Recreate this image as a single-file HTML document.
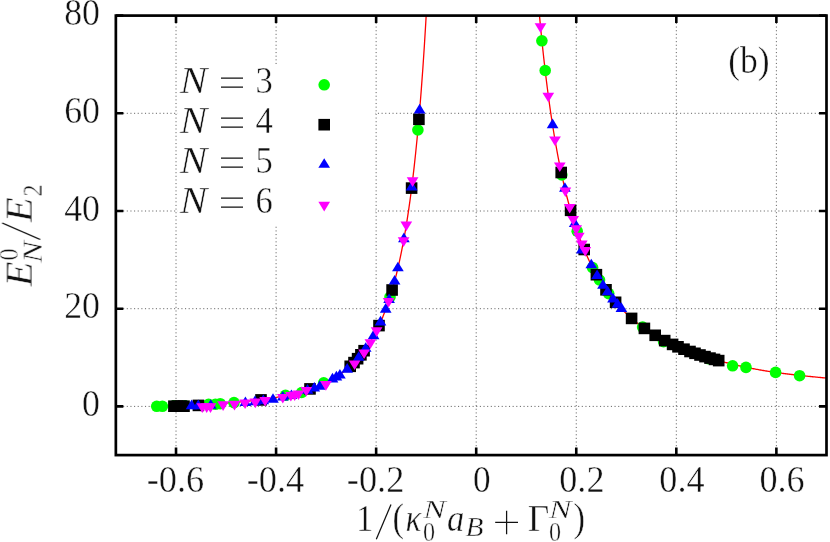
<!DOCTYPE html><html><head><meta charset="utf-8"><style>html,body{margin:0;padding:0;background:#fff}body{width:830px;height:542px;overflow:hidden;font-family:"Liberation Serif",serif}</style></head><body><svg width="830" height="542" viewBox="0 0 830 542" style="display:block">
<rect width="830" height="542" fill="#fff"/>
<defs><filter id="gs" x="0" y="0" width="830" height="542" filterUnits="userSpaceOnUse" color-interpolation-filters="sRGB"><feColorMatrix type="saturate" values="0"/></filter></defs>
<g stroke="#000" stroke-opacity="0.68" stroke-width="0.9" stroke-dasharray="1.1 2.54" fill="none">
<path d="M176.02,15.6V455.1"/>
<path d="M276.08,15.6V455.1"/>
<path d="M376.14,15.6V455.1"/>
<path d="M476.20,15.6V455.1"/>
<path d="M576.26,15.6V455.1"/>
<path d="M676.32,15.6V455.1"/>
<path d="M776.38,15.6V455.1"/>
<path d="M115.85,406.40H826.5"/>
<path d="M115.85,308.70H826.5"/>
<path d="M115.85,211.00H826.5"/>
<path d="M115.85,113.30H826.5"/>
</g>
<rect x="177.5" y="65" width="197.5" height="160" fill="#fff"/>
<g stroke="#000" stroke-width="2.6" fill="none">
<path d="M176.02,455.1v-7.5M176.02,15.6v7.5"/>
<path d="M276.08,455.1v-7.5M276.08,15.6v7.5"/>
<path d="M376.14,455.1v-7.5M376.14,15.6v7.5"/>
<path d="M476.20,455.1v-7.5M476.20,15.6v7.5"/>
<path d="M576.26,455.1v-7.5M576.26,15.6v7.5"/>
<path d="M676.32,455.1v-7.5M676.32,15.6v7.5"/>
<path d="M776.38,455.1v-7.5M776.38,15.6v7.5"/>
<path d="M115.85,406.40h7.5M826.5,406.40h-7.5"/>
<path d="M115.85,308.70h7.5M826.5,308.70h-7.5"/>
<path d="M115.85,211.00h7.5M826.5,211.00h-7.5"/>
<path d="M115.85,113.30h7.5M826.5,113.30h-7.5"/>
<path d="M115.85,15.60h7.5M826.5,15.60h-7.5"/>
</g>
<clipPath id="c"><rect x="115.85" y="15.6" width="710.65" height="439.5"/></clipPath>
<g clip-path="url(#c)" stroke="#f00" stroke-width="1.3" fill="none"><path d="M154.71,406.40 L154.71,406.40 L154.72,406.40 L154.73,406.40 L154.75,406.40 L154.76,406.40 L154.79,406.40 L154.82,406.40 L154.85,406.40 L154.89,406.39 L154.93,406.39 L154.97,406.39 L155.03,406.39 L155.08,406.39 L155.14,406.39 L155.20,406.39 L155.27,406.38 L155.34,406.38 L155.42,406.38 L155.50,406.38 L155.58,406.37 L155.67,406.37 L155.77,406.37 L155.87,406.36 L155.97,406.36 L156.07,406.36 L156.19,406.35 L156.30,406.35 L156.42,406.35 L156.55,406.34 L156.67,406.34 L156.81,406.34 L156.94,406.33 L157.09,406.33 L157.23,406.32 L157.38,406.32 L157.54,406.31 L157.69,406.31 L157.86,406.30 L158.02,406.30 L158.20,406.29 L158.37,406.29 L158.55,406.28 L158.74,406.28 L158.93,406.27 L159.12,406.26 L159.32,406.26 L159.52,406.25 L159.73,406.24 L159.94,406.24 L160.15,406.23 L160.37,406.22 L160.59,406.22 L160.82,406.21 L161.05,406.20 L161.29,406.19 L161.53,406.19 L161.77,406.18 L162.02,406.17 L162.28,406.16 L162.53,406.15 L162.80,406.14 L163.06,406.14 L163.33,406.13 L163.61,406.12 L163.89,406.11 L164.17,406.10 L164.46,406.09 L164.75,406.08 L165.04,406.07 L165.34,406.06 L165.65,406.05 L165.95,406.04 L166.27,406.03 L166.58,406.02 L166.91,406.01 L167.23,406.00 L167.56,405.98 L167.89,405.97 L168.23,405.96 L168.57,405.95 L168.92,405.94 L169.27,405.93 L169.62,405.91 L169.98,405.90 L170.34,405.89 L170.71,405.87 L171.08,405.86 L171.46,405.85 L171.84,405.83 L172.22,405.82 L172.61,405.81 L173.00,405.79 L173.39,405.78 L173.79,405.76 L174.20,405.75 L174.60,405.73 L175.02,405.72 L175.43,405.70 L175.85,405.69 L176.28,405.67 L176.70,405.66 L177.14,405.64 L177.57,405.62 L178.01,405.61 L178.45,405.59 L178.90,405.57 L179.35,405.55 L179.81,405.54 L180.27,405.52 L180.73,405.50 L181.20,405.48 L181.67,405.46 L182.14,405.45 L182.62,405.43 L183.10,405.41 L183.59,405.39 L184.08,405.37 L184.57,405.35 L185.07,405.33 L185.57,405.31 L186.07,405.28 L186.58,405.26 L187.09,405.24 L187.60,405.22 L188.12,405.20 L188.64,405.18 L189.16,405.15 L189.69,405.13 L190.22,405.11 L190.76,405.08 L191.30,405.06 L191.84,405.04 L192.38,405.01 L192.93,404.99 L193.48,404.96 L194.03,404.94 L194.59,404.91 L195.15,404.88 L195.71,404.86 L196.28,404.83 L196.85,404.80 L197.42,404.78 L198.00,404.75 L198.57,404.72 L199.16,404.69 L199.74,404.66 L200.33,404.63 L200.92,404.60 L201.51,404.57 L202.11,404.54 L202.70,404.51 L203.30,404.48 L203.91,404.45 L204.51,404.42 L205.12,404.38 L205.74,404.35 L206.35,404.32 L206.97,404.28 L207.59,404.25 L208.21,404.22 L208.83,404.18 L209.46,404.15 L210.09,404.11 L210.72,404.07 L211.36,404.04 L211.99,404.00 L212.63,403.96 L213.28,403.92 L213.92,403.88 L214.57,403.84 L215.22,403.80 L215.87,403.76 L216.52,403.72 L217.18,403.68 L217.84,403.64 L218.50,403.60 L219.16,403.55 L219.82,403.51 L220.49,403.47 L221.16,403.42 L221.83,403.38 L222.51,403.33 L223.18,403.28 L223.86,403.23 L224.54,403.19 L225.22,403.14 L225.91,403.09 L226.59,403.04 L227.28,402.99 L227.97,402.94 L228.66,402.88 L229.36,402.83 L230.06,402.78 L230.75,402.72 L231.45,402.67 L232.16,402.61 L232.86,402.56 L233.57,402.50 L234.28,402.44 L234.99,402.38 L235.70,402.32 L236.41,402.26 L237.13,402.20 L237.85,402.14 L238.57,402.07 L239.29,402.01 L240.01,401.94 L240.74,401.88 L241.46,401.81 L242.19,401.74 L242.92,401.67 L243.65,401.60 L244.39,401.53 L245.12,401.46 L245.86,401.39 L246.60,401.31 L247.34,401.24 L248.09,401.16 L248.83,401.08 L249.58,401.00 L250.33,400.92 L251.08,400.84 L251.83,400.76 L252.58,400.67 L253.34,400.59 L254.09,400.50 L254.85,400.41 L255.61,400.32 L256.37,400.23 L257.14,400.14 L257.90,400.05 L258.67,399.95 L259.44,399.86 L260.21,399.76 L260.98,399.66 L261.75,399.56 L262.53,399.45 L263.30,399.35 L264.08,399.24 L264.86,399.13 L265.64,399.02 L266.43,398.91 L267.21,398.80 L268.00,398.68 L268.79,398.57 L269.57,398.45 L270.37,398.32 L271.16,398.20 L271.95,398.07 L272.75,397.95 L273.55,397.82 L274.35,397.68 L275.15,397.55 L275.95,397.41 L276.76,397.27 L277.56,397.13 L278.37,396.98 L279.18,396.84 L279.99,396.69 L280.81,396.53 L281.62,396.38 L282.44,396.22 L283.25,396.06 L284.07,395.89 L284.90,395.72 L285.72,395.55 L286.54,395.38 L287.37,395.20 L288.20,395.02 L289.03,394.83 L289.86,394.65 L290.70,394.45 L291.53,394.26 L292.37,394.06 L293.21,393.85 L294.05,393.65 L294.90,393.43 L295.74,393.22 L296.59,393.00 L297.44,392.77 L298.29,392.54 L299.14,392.31 L300.00,392.07 L300.86,391.82 L301.71,391.57 L302.58,391.32 L303.44,391.05 L304.31,390.79 L305.17,390.51 L306.04,390.24 L306.92,389.95 L307.79,389.66 L308.67,389.36 L309.55,389.06 L310.43,388.74 L311.31,388.42 L312.20,388.10 L313.08,387.76 L313.98,387.42 L314.87,387.07 L315.76,386.71 L316.66,386.34 L317.56,385.97 L318.47,385.58 L319.37,385.18 L320.28,384.78 L321.19,384.36 L322.11,383.94 L323.03,383.50 L323.95,383.05 L324.87,382.59 L325.80,382.12 L326.73,381.63 L327.66,381.13 L328.59,380.62 L329.53,380.09 L330.47,379.55 L331.42,379.00 L332.37,378.43 L334.94,377.84 L335.89,377.24 L336.84,376.61 L337.80,375.97 L338.77,375.32 L339.74,374.64 L340.72,373.94 L341.71,373.22 L342.70,372.48 L343.70,371.71 L344.70,370.92 L345.71,370.11 L346.72,369.27 L347.75,368.40 L348.78,367.51 L349.81,366.58 L350.85,365.63 L351.90,364.64 L352.95,363.62 L354.01,362.56 L355.08,361.47 L356.15,360.33 L357.23,359.16 L358.31,357.95 L359.40,356.69 L360.50,355.38 L361.60,354.02 L362.71,352.62 L363.83,351.15 L364.95,349.64 L366.08,348.06 L367.22,346.42 L368.36,344.71 L369.51,342.93 L370.67,341.08 L371.83,339.15 L373.00,337.13 L374.17,335.03 L375.35,332.84 L376.54,330.54 L377.74,328.15 L378.94,325.64 L380.15,323.01 L381.37,320.26 L382.59,317.38 L383.82,314.36 L385.06,311.18 L386.31,307.84 L387.56,304.33 L388.82,300.63 L390.08,296.74 L391.36,292.63 L392.64,288.30 L393.93,283.72 L395.23,278.88 L396.53,273.75 L397.84,268.31 L399.16,262.54 L400.49,256.41 L401.82,249.89 L403.17,242.94 L404.52,235.53 L405.88,227.61 L407.25,219.14 L408.62,210.06 L410.01,200.33 L411.40,189.86 L412.80,178.58 L414.21,166.41 L415.63,153.26 L417.06,139.01 L418.49,123.54 L419.94,106.71 L421.39,88.34 L422.86,68.25 L424.33,46.21 L425.81,21.97 L427.31,-4.77 L428.81,-34.39 L430.32,-67.30"/><path d="M534.02,-52.63 L534.48,-46.17 L534.94,-39.83 L535.40,-33.63 L535.86,-27.56 L536.33,-21.61 L536.79,-15.78 L537.26,-10.07 L537.73,-4.47 L538.19,1.01 L538.66,6.39 L539.13,11.66 L539.60,16.83 L540.07,21.90 L540.55,26.87 L541.02,31.75 L541.49,36.53 L541.97,41.23 L542.44,45.83 L542.92,50.35 L543.40,54.79 L543.88,59.14 L544.36,63.42 L544.84,67.61 L545.32,71.74 L545.80,75.78 L546.28,79.76 L546.77,83.66 L547.25,87.50 L547.74,91.27 L548.22,94.97 L548.71,98.61 L549.20,102.18 L549.69,105.70 L550.18,109.15 L550.67,112.55 L551.16,115.88 L551.66,119.17 L552.15,122.40 L552.65,125.57 L553.14,128.69 L553.64,131.76 L554.14,134.78 L554.64,137.76 L555.13,140.68 L555.64,143.56 L556.14,146.39 L556.64,149.17 L557.14,151.91 L557.65,154.61 L558.15,157.27 L558.66,159.89 L559.17,162.46 L559.68,165.00 L560.19,167.49 L560.70,169.95 L561.21,172.37 L561.72,174.76 L562.24,177.11 L562.75,179.42 L563.27,181.70 L563.78,183.95 L564.30,186.16 L564.82,188.34 L565.34,190.49 L565.86,192.61 L566.38,194.69 L566.90,196.75 L567.43,198.78 L567.95,200.78 L568.48,202.75 L569.01,204.69 L569.53,206.61 L570.06,208.50 L570.59,210.36 L571.13,212.19 L571.66,214.01 L572.19,215.79 L572.73,217.56 L573.26,219.29 L573.80,221.01 L574.34,222.70 L574.87,224.37 L575.41,226.02 L575.96,227.64 L576.50,229.25 L577.04,230.83 L577.58,232.39 L578.13,233.93 L578.68,235.45 L579.22,236.95 L579.77,238.44 L580.32,239.90 L580.87,241.34 L581.43,242.77 L581.98,244.18 L582.53,245.57 L583.09,246.94 L583.65,248.30 L584.20,249.64 L584.76,250.96 L585.32,252.27 L585.88,253.56 L586.45,254.83 L587.01,256.09 L587.58,257.33 L588.14,258.56 L588.71,259.77 L589.28,260.97 L589.85,262.16 L590.42,263.33 L590.99,264.49 L591.56,265.63 L592.14,266.76 L592.71,267.87 L593.29,268.98 L593.87,270.07 L594.45,271.15 L595.03,272.21 L595.61,273.26 L596.19,274.31 L596.78,275.33 L597.36,276.35 L597.95,277.36 L598.54,278.35 L599.12,279.34 L599.72,280.31 L600.31,281.27 L600.90,282.22 L601.49,283.16 L602.09,284.09 L602.69,285.01 L603.28,285.92 L603.88,286.82 L604.48,287.71 L605.09,288.59 L605.69,289.46 L606.29,290.32 L606.90,291.18 L607.51,292.02 L608.11,292.85 L608.72,293.68 L609.33,294.49 L609.95,295.30 L610.56,296.10 L611.18,296.89 L611.79,297.68 L612.41,298.45 L613.03,299.22 L613.65,299.98 L614.27,300.73 L614.89,301.47 L615.52,302.21 L616.14,302.94 L616.77,303.66 L617.40,304.37 L618.03,305.08 L618.66,305.78 L619.29,306.47 L619.93,307.15 L620.56,307.83 L621.20,308.50 L621.84,309.17 L622.48,309.83 L623.12,310.48 L623.76,311.13 L624.41,311.77 L625.05,312.40 L625.70,313.03 L626.35,313.65 L627.00,314.26 L627.65,314.87 L628.30,315.48 L628.96,316.07 L629.61,316.67 L630.27,317.25 L630.93,317.83 L631.59,318.41 L632.25,318.98 L632.91,319.54 L633.58,320.10 L634.24,320.66 L634.91,321.21 L635.58,321.75 L636.25,322.29 L636.92,322.82 L637.60,323.35 L638.27,323.88 L638.95,324.40 L639.63,324.91 L640.31,325.42 L640.99,325.93 L641.67,326.43 L642.35,326.93 L643.04,327.42 L643.73,327.91 L644.42,328.39 L645.11,328.87 L645.80,329.34 L646.49,329.82 L647.19,330.28 L647.89,330.75 L648.59,331.20 L649.29,331.66 L649.99,332.11 L650.69,332.56 L651.40,333.00 L652.11,333.44 L652.81,333.87 L653.52,334.31 L654.24,334.73 L654.95,335.16 L655.67,335.58 L656.38,336.00 L657.10,336.41 L657.82,336.82 L658.54,337.23 L659.27,337.63 L659.99,338.03 L660.72,338.43 L661.45,338.82 L662.18,339.21 L662.91,339.60 L663.65,339.98 L664.38,340.36 L665.12,340.74 L665.86,341.12 L666.60,341.49 L667.34,341.86 L668.09,342.22 L668.83,342.59 L669.58,342.95 L670.33,343.30 L671.08,343.66 L671.84,344.01 L672.59,344.36 L673.35,344.70 L674.11,345.05 L674.87,345.39 L675.63,345.73 L676.39,346.06 L677.16,346.40 L677.93,346.73 L678.70,347.05 L679.47,347.38 L680.24,347.70 L681.02,348.02 L681.80,348.34 L682.58,348.66 L683.36,348.97 L684.14,349.28 L684.93,349.59 L685.71,349.90 L686.50,350.20 L687.29,350.51 L688.08,350.81 L688.88,351.11 L689.68,351.40 L690.47,351.70 L691.27,351.99 L692.08,352.28 L692.88,352.57 L693.69,352.85 L694.50,353.14 L695.31,353.42 L696.12,353.70 L696.93,353.98 L697.75,354.26 L698.57,354.53 L699.39,354.80 L700.21,355.08 L701.04,355.35 L701.86,355.61 L702.69,355.88 L703.52,356.15 L704.35,356.41 L705.19,356.67 L706.03,356.93 L706.86,357.19 L707.71,357.45 L708.55,357.70 L709.39,357.96 L710.24,358.21 L711.09,358.46 L711.94,358.71 L712.80,358.96 L713.65,359.20 L714.51,359.45 L715.37,359.69 L716.23,359.94 L717.10,360.18 L717.96,360.42 L718.83,360.66 L719.70,360.90 L720.58,361.13 L721.45,361.37 L722.33,361.60 L723.21,361.83 L724.09,362.06 L724.98,362.29 L725.86,362.52 L726.75,362.75 L727.64,362.97 L728.54,363.20 L729.43,363.42 L730.33,363.64 L731.23,363.87 L732.14,364.08 L733.04,364.30 L733.95,364.52 L734.86,364.73 L735.77,364.95 L736.68,365.16 L737.60,365.37 L738.52,365.58 L739.44,365.79 L740.37,366.00 L741.29,366.20 L742.22,366.41 L743.15,366.61 L744.09,366.81 L745.02,367.01 L745.96,367.21 L746.90,367.41 L747.84,367.60 L748.79,367.80 L749.74,367.99 L750.69,368.18 L751.64,368.37 L752.60,368.56 L753.56,368.74 L754.52,368.92 L755.48,369.11 L756.45,369.29 L757.41,369.46 L758.39,369.64 L759.36,369.82 L760.33,369.99 L761.31,370.16 L762.29,370.33 L763.28,370.50 L764.26,370.66 L765.25,370.83 L766.24,370.99 L767.24,371.15 L768.24,371.31 L769.24,371.47 L770.24,371.62 L771.24,371.78 L772.25,371.93 L773.26,372.08 L774.27,372.23 L775.29,372.37 L776.31,372.52 L777.33,372.66 L778.35,372.81 L779.38,372.95 L780.41,373.08 L781.44,373.22 L782.47,373.36 L783.51,373.49 L784.55,373.63 L785.60,373.76 L786.64,373.89 L787.69,374.02 L788.74,374.14 L789.80,374.27 L790.85,374.40 L791.91,374.52 L792.98,374.64 L794.04,374.77 L795.11,374.89 L796.18,375.01 L797.26,375.13 L798.34,375.25 L799.42,375.37 L800.50,375.48 L801.59,375.60 L802.68,375.72 L803.77,375.83 L804.86,375.95 L805.96,376.06 L807.06,376.17 L808.17,376.29 L809.28,376.40 L810.39,376.51 L811.50,376.63 L812.62,376.74 L813.74,376.85 L814.86,376.96 L815.99,377.07 L817.12,377.18 L818.25,377.29 L819.38,377.40 L820.52,377.51 L821.66,377.62 L822.81,377.73 L823.96,377.84 L825.11,377.95 L827.70,378.04"/></g>
<g fill="#0f0"><circle cx="156.7" cy="406.3" r="5.8"/><circle cx="162.4" cy="406.3" r="5.8"/><circle cx="174.0" cy="405.8" r="5.8"/><circle cx="185.0" cy="405.8" r="5.8"/><circle cx="208.6" cy="404.3" r="5.8"/><circle cx="215.4" cy="404.3" r="5.8"/><circle cx="220.2" cy="403.7" r="5.8"/><circle cx="234.0" cy="402.6" r="5.8"/><circle cx="285.5" cy="395.3" r="5.8"/><circle cx="301.7" cy="392.5" r="5.8"/><circle cx="323.7" cy="382.9" r="5.8"/><circle cx="390.0" cy="297.0" r="5.8"/><circle cx="417.9" cy="130.0" r="5.8"/><circle cx="541.9" cy="40.8" r="5.8"/><circle cx="545.2" cy="70.5" r="5.8"/><circle cx="561.8" cy="175.0" r="5.8"/><circle cx="577.2" cy="231.2" r="5.8"/><circle cx="592.6" cy="267.6" r="5.8"/><circle cx="599.5" cy="280.0" r="5.8"/><circle cx="608.7" cy="293.6" r="5.8"/><circle cx="642.6" cy="327.1" r="5.8"/><circle cx="663.6" cy="341.6" r="5.8"/><circle cx="709.0" cy="358.8" r="5.8"/><circle cx="732.6" cy="365.8" r="5.8"/><circle cx="746.0" cy="367.4" r="5.8"/><circle cx="775.6" cy="372.4" r="5.8"/><circle cx="799.6" cy="375.7" r="5.8"/></g>

<g fill="#000"><rect x="168.1" y="400.4" width="11.6" height="11.6"/><rect x="171.7" y="400.4" width="11.6" height="11.6"/><rect x="175.2" y="400.4" width="11.6" height="11.6"/><rect x="178.2" y="400.4" width="11.6" height="11.6"/><rect x="192.6" y="399.6" width="11.6" height="11.6"/><rect x="255.2" y="394.1" width="11.6" height="11.6"/><rect x="304.2" y="383.1" width="11.6" height="11.6"/><rect x="344.4" y="360.5" width="11.6" height="11.6"/><rect x="348.2" y="356.8" width="11.6" height="11.6"/><rect x="351.8" y="352.9" width="11.6" height="11.6"/><rect x="355.1" y="349.0" width="11.6" height="11.6"/><rect x="358.3" y="344.9" width="11.6" height="11.6"/><rect x="373.2" y="319.8" width="11.6" height="11.6"/><rect x="386.3" y="284.2" width="11.6" height="11.6"/><rect x="405.8" y="182.3" width="11.6" height="11.6"/><rect x="413.1" y="113.5" width="11.6" height="11.6"/><rect x="555.4" y="166.7" width="11.6" height="11.6"/><rect x="564.8" y="204.5" width="11.6" height="11.6"/><rect x="578.4" y="243.7" width="11.6" height="11.6"/><rect x="590.6" y="268.9" width="11.6" height="11.6"/><rect x="600.2" y="284.0" width="11.6" height="11.6"/><rect x="609.8" y="296.5" width="11.6" height="11.6"/><rect x="625.8" y="312.6" width="11.6" height="11.6"/><rect x="638.6" y="322.6" width="11.6" height="11.6"/><rect x="649.4" y="329.5" width="11.6" height="11.6"/><rect x="658.9" y="334.8" width="11.6" height="11.6"/><rect x="666.8" y="338.6" width="11.6" height="11.6"/><rect x="672.2" y="341.0" width="11.6" height="11.6"/><rect x="678.2" y="343.4" width="11.6" height="11.6"/><rect x="684.2" y="345.7" width="11.6" height="11.6"/><rect x="689.2" y="347.5" width="11.6" height="11.6"/><rect x="694.2" y="349.2" width="11.6" height="11.6"/><rect x="699.2" y="350.8" width="11.6" height="11.6"/><rect x="704.2" y="352.3" width="11.6" height="11.6"/><rect x="708.7" y="353.6" width="11.6" height="11.6"/><rect x="712.9" y="354.8" width="11.6" height="11.6"/></g>

<g fill="#00f"><path d="M191.6,399.6l5.85,9.6h-11.7z"/><path d="M198.3,399.6l5.85,9.6h-11.7z"/><path d="M210.8,399.2l5.85,9.6h-11.7z"/><path d="M245.4,396.4l5.85,9.6h-11.7z"/><path d="M255.0,395.6l5.85,9.6h-11.7z"/><path d="M263.3,394.6l5.85,9.6h-11.7z"/><path d="M273.0,393.2l5.85,9.6h-11.7z"/><path d="M282.8,391.0l5.85,9.6h-11.7z"/><path d="M291.4,389.4l5.85,9.6h-11.7z"/><path d="M307.5,384.1l5.85,9.6h-11.7z"/><path d="M314.3,381.9l5.85,9.6h-11.7z"/><path d="M319.8,380.2l5.85,9.6h-11.7z"/><path d="M332.5,372.8l5.85,9.6h-11.7z"/><path d="M336.4,370.8l5.85,9.6h-11.7z"/><path d="M339.9,369.0l5.85,9.6h-11.7z"/><path d="M347.2,363.1l5.85,9.6h-11.7z"/><path d="M358.7,351.2l5.85,9.6h-11.7z"/><path d="M365.7,342.2l5.85,9.6h-11.7z"/><path d="M373.6,329.6l5.85,9.6h-11.7z"/><path d="M380.5,315.8l5.85,9.6h-11.7z"/><path d="M385.7,303.1l5.85,9.6h-11.7z"/><path d="M389.1,293.5l5.85,9.6h-11.7z"/><path d="M394.6,275.0l5.85,9.6h-11.7z"/><path d="M397.9,261.7l5.85,9.6h-11.7z"/><path d="M403.9,232.6l5.85,9.6h-11.7z"/><path d="M411.7,180.9l5.85,9.6h-11.7z"/><path d="M419.6,103.8l5.85,9.6h-11.7z"/><path d="M552.6,118.6l5.85,9.6h-11.7z"/><path d="M564.9,182.2l5.85,9.6h-11.7z"/><path d="M574.7,217.4l5.85,9.6h-11.7z"/><path d="M591.3,258.7l5.85,9.6h-11.7z"/><path d="M597.1,269.5l5.85,9.6h-11.7z"/><path d="M603.0,279.1l5.85,9.6h-11.7z"/><path d="M607.6,285.7l5.85,9.6h-11.7z"/><path d="M613.0,292.8l5.85,9.6h-11.7z"/><path d="M617.5,298.1l5.85,9.6h-11.7z"/><path d="M621.4,302.3l5.85,9.6h-11.7z"/><path d="M581.8,243.8l5.85,9.6h-11.7z"/></g>

<g fill="#f0f"><path d="M202.3,412.9l5.85,-9.6h-11.7z"/><path d="M206.7,412.9l5.85,-9.6h-11.7z"/><path d="M210.5,412.9l5.85,-9.6h-11.7z"/><path d="M223.1,410.9l5.85,-9.6h-11.7z"/><path d="M234.5,410.4l5.85,-9.6h-11.7z"/><path d="M245.1,409.1l5.85,-9.6h-11.7z"/><path d="M255.3,408.2l5.85,-9.6h-11.7z"/><path d="M265.1,406.6l5.85,-9.6h-11.7z"/><path d="M282.8,403.6l5.85,-9.6h-11.7z"/><path d="M290.9,401.5l5.85,-9.6h-11.7z"/><path d="M294.7,401.1l5.85,-9.6h-11.7z"/><path d="M298.5,400.0l5.85,-9.6h-11.7z"/><path d="M306.3,396.5l5.85,-9.6h-11.7z"/><path d="M325.9,390.7l5.85,-9.6h-11.7z"/><path d="M354.6,370.1l5.85,-9.6h-11.7z"/><path d="M364.1,359.0l5.85,-9.6h-11.7z"/><path d="M370.4,348.9l5.85,-9.6h-11.7z"/><path d="M376.6,336.9l5.85,-9.6h-11.7z"/><path d="M388.6,307.5l5.85,-9.6h-11.7z"/><path d="M403.6,246.9l5.85,-9.6h-11.7z"/><path d="M406.3,231.2l5.85,-9.6h-11.7z"/><path d="M412.6,186.9l5.85,-9.6h-11.7z"/><path d="M540.5,32.9l5.85,-9.6h-11.7z"/><path d="M548.3,102.3l5.85,-9.6h-11.7z"/><path d="M555.0,146.1l5.85,-9.6h-11.7z"/><path d="M559.8,172.0l5.85,-9.6h-11.7z"/><path d="M565.4,197.1l5.85,-9.6h-11.7z"/><path d="M569.7,213.6l5.85,-9.6h-11.7z"/><path d="M573.2,225.5l5.85,-9.6h-11.7z"/><path d="M576.2,234.9l5.85,-9.6h-11.7z"/><path d="M578.8,242.3l5.85,-9.6h-11.7z"/><path d="M581.8,250.0l5.85,-9.6h-11.7z"/><path d="M585.3,256.7l5.85,-9.6h-11.7z"/></g>

<g fill="#0f0"><circle cx="324.2" cy="84.8" r="5.8"/></g><g fill="#000"><rect x="318.4" y="118.9" width="11.6" height="11.6"/></g><g fill="#00f"><path d="M324.2,158.2l5.85,9.6h-11.7z"/></g><g fill="#f0f"><path d="M324.2,211.4l5.85,-9.6h-11.7z"/></g>
<rect x="115.85" y="15.6" width="710.65" height="439.5" fill="none" stroke="#000" stroke-width="2.7"/>
<g font-family="'Liberation Serif',serif" font-size="34.6" fill="#111" stroke="#fff" stroke-width="0.4" filter="url(#gs)">
<text transform="translate(100.00,416.00) scale(1,1.09)" text-anchor="end" textLength="17.9" lengthAdjust="spacingAndGlyphs">0</text>
<text transform="translate(100.00,318.30) scale(1,1.09)" text-anchor="end" textLength="35.8" lengthAdjust="spacingAndGlyphs">20</text>
<text transform="translate(100.00,220.60) scale(1,1.09)" text-anchor="end" textLength="35.8" lengthAdjust="spacingAndGlyphs">40</text>
<text transform="translate(100.00,122.90) scale(1,1.09)" text-anchor="end" textLength="35.8" lengthAdjust="spacingAndGlyphs">60</text>
<text transform="translate(100.00,25.20) scale(1,1.09)" text-anchor="end" textLength="35.8" lengthAdjust="spacingAndGlyphs">80</text>
<text transform="translate(175.42,491.80) scale(1,1.09)" text-anchor="middle" textLength="57.5" lengthAdjust="spacingAndGlyphs">-0.6</text>
<text transform="translate(275.48,491.80) scale(1,1.09)" text-anchor="middle" textLength="57.5" lengthAdjust="spacingAndGlyphs">-0.4</text>
<text transform="translate(375.54,491.80) scale(1,1.09)" text-anchor="middle" textLength="57.5" lengthAdjust="spacingAndGlyphs">-0.2</text>
<text transform="translate(481.80,491.80) scale(1,1.09)" text-anchor="middle" textLength="17.6" lengthAdjust="spacingAndGlyphs">0</text>
<text transform="translate(581.86,491.80) scale(1,1.09)" text-anchor="middle" textLength="45.2" lengthAdjust="spacingAndGlyphs">0.2</text>
<text transform="translate(681.92,491.80) scale(1,1.09)" text-anchor="middle" textLength="45.2" lengthAdjust="spacingAndGlyphs">0.4</text>
<text transform="translate(781.98,491.80) scale(1,1.09)" text-anchor="middle" textLength="45.2" lengthAdjust="spacingAndGlyphs">0.6</text>
<text transform="translate(179.80,93.00) scale(1,1.09)" font-style="italic" textLength="27.5" lengthAdjust="spacingAndGlyphs">N</text>
<path d="M221,78.2h22M221,87.1h22" stroke="#111" stroke-width="1.25" fill="none"/>
<text transform="translate(255.50,93.00) scale(1,1.09)">3</text>
<text transform="translate(179.80,133.00) scale(1,1.09)" font-style="italic" textLength="27.5" lengthAdjust="spacingAndGlyphs">N</text>
<path d="M221,118.2h22M221,127.1h22" stroke="#111" stroke-width="1.25" fill="none"/>
<text transform="translate(255.50,133.00) scale(1,1.09)">4</text>
<text transform="translate(179.80,173.00) scale(1,1.09)" font-style="italic" textLength="27.5" lengthAdjust="spacingAndGlyphs">N</text>
<path d="M221,158.2h22M221,167.1h22" stroke="#111" stroke-width="1.25" fill="none"/>
<text transform="translate(255.50,173.00) scale(1,1.09)">5</text>
<text transform="translate(179.80,213.00) scale(1,1.09)" font-style="italic" textLength="27.5" lengthAdjust="spacingAndGlyphs">N</text>
<path d="M221,198.2h22M221,207.1h22" stroke="#111" stroke-width="1.25" fill="none"/>
<text transform="translate(255.50,213.00) scale(1,1.09)">6</text>
<text transform="translate(728.20,73.30) scale(1,1.09)" textLength="41.5" lengthAdjust="spacingAndGlyphs">(b)</text>
<text transform="translate(356.00,531.20) scale(1,1.09)">1</text>
<path d="M376.3,539.2L391,504.4" stroke="#111" stroke-width="1.25" fill="none"/>
<text transform="translate(392.60,531.20) scale(1,1.15)">(</text>
<text transform="translate(405.50,531.20) scale(1,1.09)" font-style="italic" textLength="16" lengthAdjust="spacingAndGlyphs">κ</text>
<text transform="translate(423.30,517.80) scale(1,1.0)" font-style="italic" font-size="24.2" textLength="22.5" lengthAdjust="spacingAndGlyphs">N</text>
<text transform="translate(423.00,540.80) scale(1,1.09)" font-size="24.2">0</text>
<text transform="translate(447.00,531.20) scale(1,1.09)" font-style="italic">a</text>
<text transform="translate(465.50,536.20) scale(1,1.09)" font-style="italic" font-size="24.2" textLength="18" lengthAdjust="spacingAndGlyphs">B</text>
<path d="M495.2,522.4H518M506.6,510.7V534.2" stroke="#111" stroke-width="1.25" fill="none"/>
<text transform="translate(527.80,531.20) scale(1,1.09)" textLength="21.5" lengthAdjust="spacingAndGlyphs">Γ</text>
<text transform="translate(549.00,517.80) scale(1,1.0)" font-style="italic" font-size="24.2" textLength="22.5" lengthAdjust="spacingAndGlyphs">N</text>
<text transform="translate(549.00,540.80) scale(1,1.09)" font-size="24.2">0</text>
<text transform="translate(573.60,531.20) scale(1,1.15)">)</text>
<g transform="translate(31.7,286) rotate(-90)">
<text transform="translate(-0.60,0.00) scale(1,1.09)" font-style="italic" textLength="25" lengthAdjust="spacingAndGlyphs">E</text>
<text transform="translate(25.50,-14.00) scale(1,1.09)" font-size="24.2">0</text>
<text transform="translate(23.00,9.70) scale(1,1.09)" font-style="italic" font-size="24.2" textLength="22" lengthAdjust="spacingAndGlyphs">N</text>
<path d="M46.5,8.5L63,-29.5" stroke="#111" stroke-width="1.25" fill="none"/>
<text transform="translate(63.80,0.00) scale(1,1.09)" font-style="italic" textLength="25" lengthAdjust="spacingAndGlyphs">E</text>
<text transform="translate(89.50,9.70) scale(1,1.09)" font-size="24.2">2</text>
</g>
</g>
</svg></body></html>
